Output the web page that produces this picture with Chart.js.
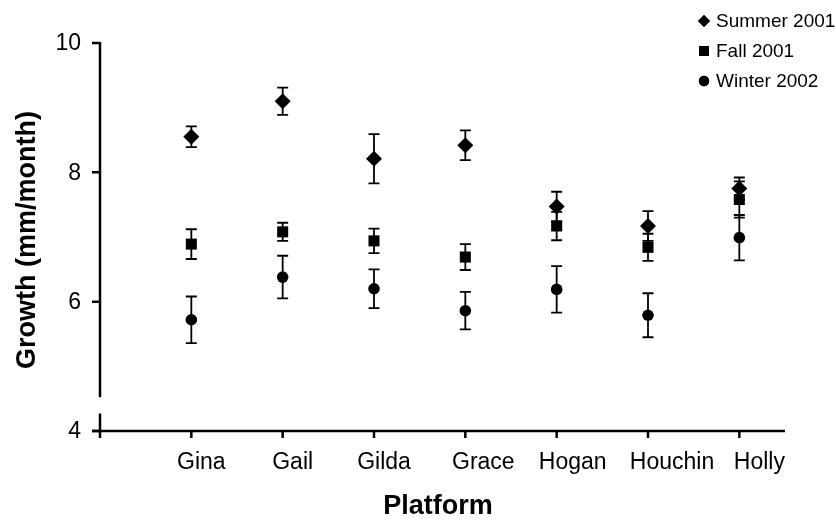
<!DOCTYPE html>
<html>
<head>
<meta charset="utf-8">
<script src="https://cdn.jsdelivr.net/npm/chart.js@4/dist/chart.umd.min.js"></script>
<style>
  html, body { margin: 0; padding: 0; background: #fff; }
  #wrap { width: 836px; height: 521px; }
</style>
</head>
<body>
<div id="wrap"><canvas id="c" width="836" height="521"></canvas></div>
<script>
// Platform growth, mean ± error per season
const platforms = ['Gina', 'Gail', 'Gilda', 'Grace', 'Hogan', 'Houchin', 'Holly'];
const summer2001 = [8.55, 9.10, 8.21, 8.42, 7.47, 7.17, 7.75];
const summer2001Err = [0.16, 0.21, 0.38, 0.23, 0.23, 0.23, 0.17];
const fall2001 = [6.89, 7.08, 6.94, 6.69, 7.17, 6.84, 7.58];
const fall2001Err = [0.23, 0.14, 0.19, 0.20, 0.22, 0.21, 0.28];
const winter2002 = [5.72, 6.38, 6.20, 5.86, 6.19, 5.79, 6.99];
const winter2002Err = [0.36, 0.33, 0.30, 0.29, 0.36, 0.34, 0.35];
const seriesNames = ['Summer 2001', 'Fall 2001', 'Winter 2002'];
const yTicks = [4, 6, 8, 10];
const xTicks = [0, 1, 2, 3, 4, 5, 6, 7];

const FONT = '"Liberation Sans", Arial, Helvetica, sans-serif';
const INK = '#000';
// the platform names sit a little right of their tick marks
const labelNudge = [10, 10, 10, 18, 16, 24, 20];

function toPoints(values, errs) {
  return values.map((v, i) => ({ x: i + 1, y: v, err: errs[i] }));
}

// Vertical error bars with caps, drawn under the markers
const errorBars = {
  id: 'errorBars',
  beforeDatasetsDraw(chart) {
    const { ctx, scales: { x, y } } = chart;
    ctx.save();
    ctx.strokeStyle = INK;
    ctx.lineWidth = 1.8;
    const cap = 5.5;
    chart.data.datasets.forEach(ds => {
      ds.data.forEach(p => {
        const px = x.getPixelForValue(p.x);
        const top = y.getPixelForValue(p.y + p.err);
        const bot = y.getPixelForValue(p.y - p.err);
        ctx.beginPath();
        ctx.moveTo(px, top); ctx.lineTo(px, bot);
        ctx.moveTo(px - cap, top); ctx.lineTo(px + cap, top);
        ctx.moveTo(px - cap, bot); ctx.lineTo(px + cap, bot);
        ctx.stroke();
      });
    });
    ctx.restore();
  }
};

// Axes with a break near the bottom of the value axis, tick labels, titles and legend
const frame = {
  id: 'frame',
  afterDraw(chart) {
    const { ctx, scales: { x, y } } = chart;
    const x0 = x.getPixelForValue(0);
    const xEnd = x.getPixelForValue(7.5);
    const y4 = y.getPixelForValue(4);
    ctx.save();
    ctx.strokeStyle = INK;
    ctx.lineWidth = 2.5;
    ctx.lineCap = 'butt';

    // value axis, broken between 4.27 and 4.52
    ctx.beginPath();
    ctx.moveTo(x0, y.getPixelForValue(10) - 1);
    ctx.lineTo(x0, y.getPixelForValue(4.52));
    ctx.moveTo(x0, y.getPixelForValue(4.27));
    ctx.lineTo(x0, y4);
    ctx.stroke();

    // value ticks
    ctx.beginPath();
    yTicks.forEach(t => {
      const py = y.getPixelForValue(t);
      ctx.moveTo(x0 - 8, py); ctx.lineTo(x0, py);
    });
    ctx.stroke();

    // category axis
    ctx.beginPath();
    ctx.moveTo(x0 - 8, y4); ctx.lineTo(xEnd, y4);
    ctx.stroke();
    ctx.beginPath();
    xTicks.forEach(t => {
      const px = x.getPixelForValue(t);
      ctx.moveTo(px, y4); ctx.lineTo(px, y4 + 7);
    });
    ctx.stroke();

    // tick labels
    ctx.fillStyle = INK;
    ctx.font = '23px ' + FONT;
    ctx.textAlign = 'right';
    ctx.textBaseline = 'middle';
    yTicks.forEach(t => ctx.fillText(String(t), x0 - 19, y.getPixelForValue(t) + 1));
    ctx.textAlign = 'center';
    platforms.forEach((name, i) =>
      ctx.fillText(name, x.getPixelForValue(i + 1) + labelNudge[i], y4 + 32));

    // axis titles
    ctx.font = 'bold 27px ' + FONT;
    ctx.textBaseline = 'alphabetic';
    ctx.fillText('Platform', 438, 514);
    ctx.textBaseline = 'middle';
    ctx.save();
    ctx.translate(28, 240);
    ctx.rotate(-Math.PI / 2);
    ctx.fillText('Growth (mm/month)', 0, 0);
    ctx.restore();

    // legend
    ctx.font = '19px ' + FONT;
    ctx.textAlign = 'left';
    const rows = [21, 51, 81];
    const legendSizes = [6, 7, 5.2];
    chart.data.datasets.forEach((ds, i) => {
      Chart.helpers.drawPoint(ctx, {
        pointStyle: ds.pointStyle, radius: legendSizes[i], rotation: 0, borderWidth: 0
      }, 704, rows[i]);
      ctx.fill();
      ctx.fillText(ds.label, 716, rows[i] + 1);
    });
    ctx.restore();
  }
};

const common = { backgroundColor: INK, borderColor: INK, borderWidth: 0, showLine: false };

new Chart(document.getElementById('c'), {
  type: 'scatter',
  data: {
    datasets: [
      { ...common, label: seriesNames[0], data: toPoints(summer2001, summer2001Err), pointStyle: 'rectRot', pointRadius: 8 },
      { ...common, label: seriesNames[1], data: toPoints(fall2001, fall2001Err), pointStyle: 'rect', pointRadius: 7.8 },
      { ...common, label: seriesNames[2], data: toPoints(winter2002, winter2002Err), pointStyle: 'circle', pointRadius: 5.8 }
    ]
  },
  options: {
    responsive: false,
    animation: false,
    devicePixelRatio: 1,
    layout: { padding: { left: 0, top: 43, right: 51, bottom: 0 } },
    plugins: { legend: { display: false }, tooltip: { enabled: false } },
    scales: {
      x: {
        type: 'linear', min: 0, max: 7.5,
        grid: { display: false, drawTicks: false },
        border: { display: false },
        ticks: { display: false },
        afterFit(s) { s.height = 90; }
      },
      y: {
        type: 'linear', min: 4, max: 10,
        grid: { display: false, drawTicks: false },
        border: { display: false },
        ticks: { display: false },
        afterFit(s) { s.width = 100; }
      }
    }
  },
  plugins: [errorBars, frame]
});
</script>
</body>
</html>
